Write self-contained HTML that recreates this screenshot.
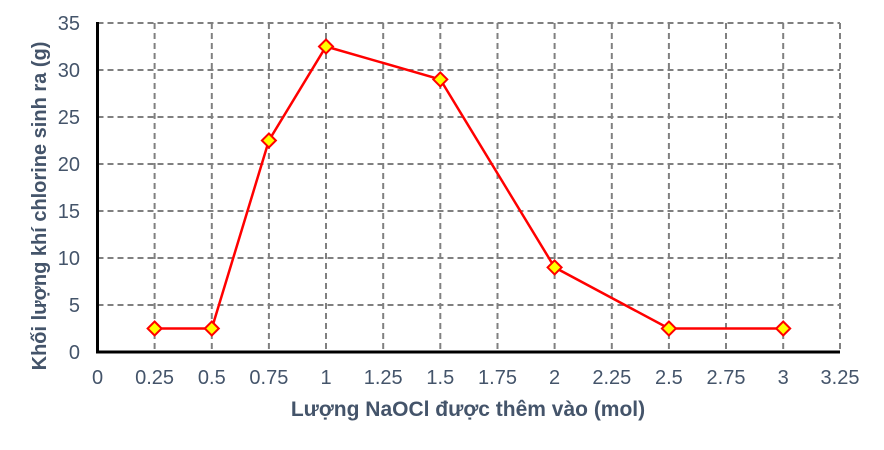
<!DOCTYPE html>
<html><head><style>body{margin:0;background:#fff}</style></head><body>
<svg width="884" height="445" xmlns="http://www.w3.org/2000/svg" font-family="Liberation Sans, sans-serif">
<g stroke="#808080" stroke-width="2" stroke-dasharray="6,4" fill="none">
<line x1="97.5" y1="23" x2="840" y2="23"/><line x1="97.5" y1="70" x2="840" y2="70"/><line x1="97.5" y1="117" x2="840" y2="117"/><line x1="97.5" y1="164" x2="840" y2="164"/><line x1="97.5" y1="211" x2="840" y2="211"/><line x1="97.5" y1="258" x2="840" y2="258"/><line x1="97.5" y1="305" x2="840" y2="305"/>
<line x1="154.6" y1="23" x2="154.6" y2="352"/><line x1="211.8" y1="23" x2="211.8" y2="352"/><line x1="268.9" y1="23" x2="268.9" y2="352"/><line x1="326" y1="23" x2="326" y2="352"/><line x1="383.2" y1="23" x2="383.2" y2="352"/><line x1="440.3" y1="23" x2="440.3" y2="352"/><line x1="497.5" y1="23" x2="497.5" y2="352"/><line x1="554.6" y1="23" x2="554.6" y2="352"/><line x1="611.8" y1="23" x2="611.8" y2="352"/><line x1="668.9" y1="23" x2="668.9" y2="352"/><line x1="726" y1="23" x2="726" y2="352"/><line x1="783.2" y1="23" x2="783.2" y2="352"/><line x1="840" y1="23" x2="840" y2="352"/>
</g>
<line x1="97.5" y1="22" x2="97.5" y2="353" stroke="#000" stroke-width="3"/>
<line x1="96" y1="352" x2="840" y2="352" stroke="#000" stroke-width="3"/>
<polyline fill="none" stroke="#ff0000" stroke-width="2.5" points="154.6,328.5 211.8,328.5 268.9,140.5 326,46.5 440.3,79.4 554.6,267.4 668.9,328.5 783.2,328.5"/>
<g fill="#ffff00" stroke="#ff0000" stroke-width="2">
<path d="M154.6 321.5l7 7-7 7-7-7z"/><path d="M211.8 321.5l7 7-7 7-7-7z"/><path d="M268.9 133.5l7 7-7 7-7-7z"/><path d="M326 39.5l7 7-7 7-7-7z"/><path d="M440.3 72.4l7 7-7 7-7-7z"/><path d="M554.6 260.4l7 7-7 7-7-7z"/><path d="M668.9 321.5l7 7-7 7-7-7z"/><path d="M783.2 321.5l7 7-7 7-7-7z"/>
</g>
<g fill="#44546a" font-size="20" text-anchor="end">
<text x="80" y="30">35</text><text x="80" y="77">30</text><text x="80" y="124">25</text><text x="80" y="171">20</text><text x="80" y="218">15</text><text x="80" y="265">10</text><text x="80" y="312">5</text><text x="80" y="359">0</text>
</g>
<g fill="#44546a" font-size="20" text-anchor="middle">
<text x="97.5" y="384">0</text><text x="154.6" y="384">0.25</text><text x="211.8" y="384">0.5</text><text x="268.9" y="384">0.75</text><text x="326" y="384">1</text><text x="383.2" y="384">1.25</text><text x="440.3" y="384">1.5</text><text x="497.5" y="384">1.75</text><text x="554.6" y="384">2</text><text x="611.8" y="384">2.25</text><text x="668.9" y="384">2.5</text><text x="726" y="384">2.75</text><text x="783.2" y="384">3</text><text x="840" y="384">3.25</text>
<text x="468" y="416" font-weight="bold" font-size="21">Lượng NaOCl được thêm vào (mol)</text>
<text transform="translate(46,206) rotate(-90)" font-weight="bold" font-size="20">Khối lượng khí chlorine sinh ra (g)</text>
</g>
</svg>
</body></html>
